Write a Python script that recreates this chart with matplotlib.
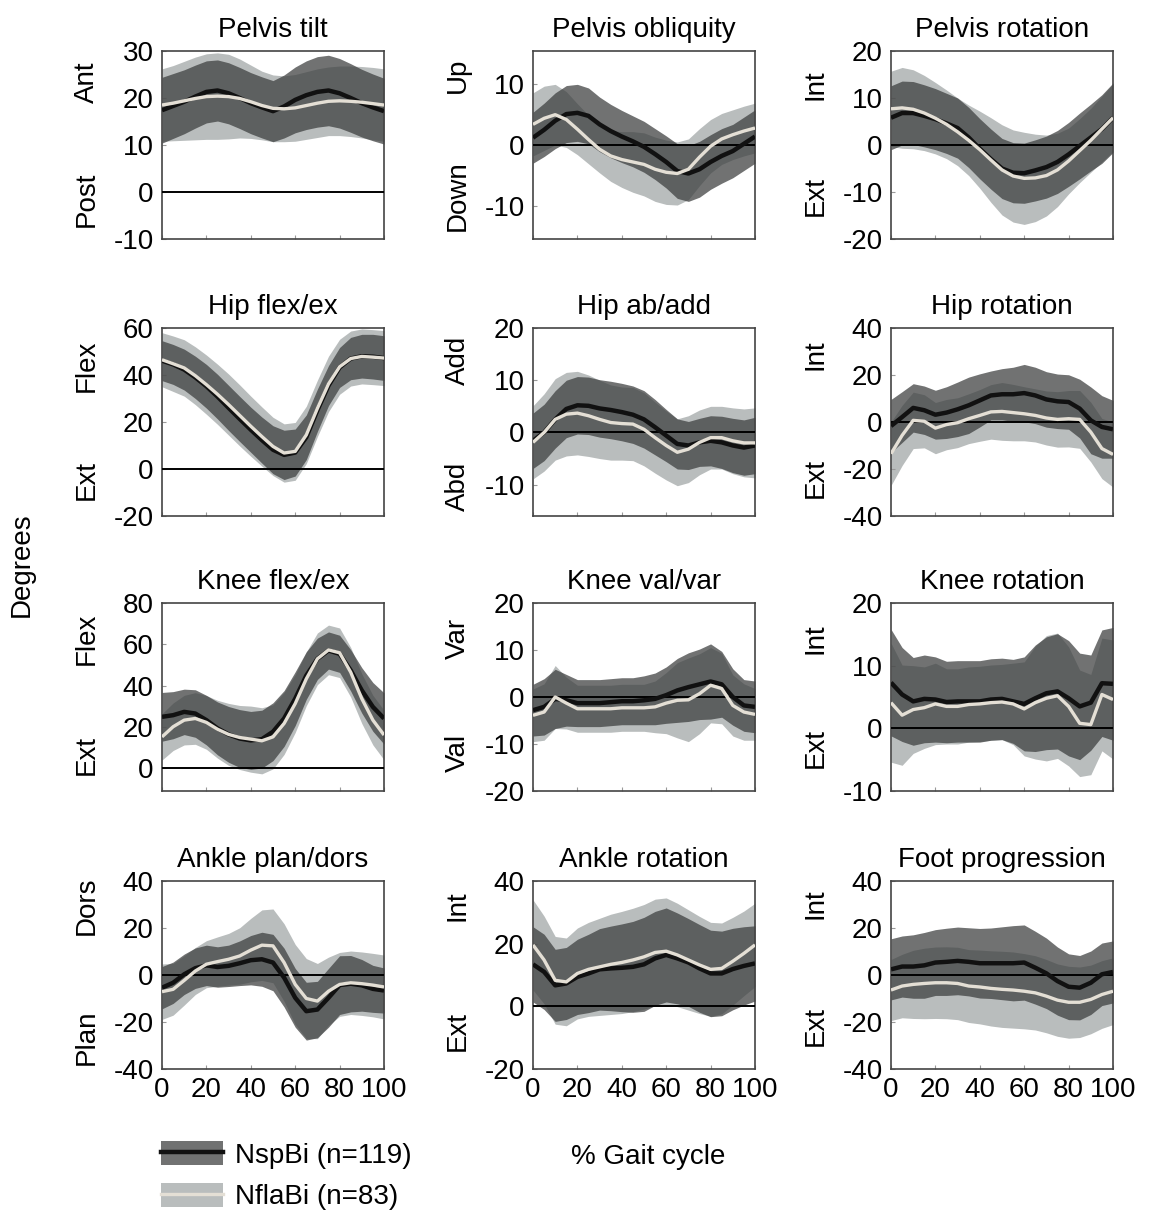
import numpy as np
import matplotlib
matplotlib.use("Agg")
import matplotlib.pyplot as plt
from matplotlib.patches import Patch
from matplotlib.lines import Line2D

plt.rcParams['font.family'] = ['Liberation Sans', 'DejaVu Sans']

# ---------------- data (0..100 % gait cycle, step 5) ----------------
gait = np.arange(0, 101, 5)

pelvis_tilt_sp_mean = [17.4, 18.3, 19.2, 20.3, 21.3, 21.6, 21.0, 20.0, 18.9, 18.0, 17.2, 18.2, 19.6, 20.6, 21.3, 21.6, 21.0, 20.0, 18.9, 18.0, 17.2]
pelvis_tilt_sp_sd = [7.0, 6.9, 6.8, 6.7, 6.6, 6.5, 6.5, 6.5, 6.5, 6.5, 6.5, 6.7, 7.0, 7.3, 7.5, 7.5, 7.4, 7.3, 7.2, 7.1, 7.0]
pelvis_tilt_fl_mean = [18.5, 18.9, 19.4, 19.9, 20.3, 20.4, 20.3, 19.9, 19.2, 18.4, 17.8, 17.7, 17.9, 18.4, 18.9, 19.3, 19.4, 19.3, 19.1, 18.8, 18.5]
pelvis_tilt_fl_sd = [7.7, 8.0, 8.4, 8.8, 9.1, 9.2, 9.0, 8.4, 7.8, 7.3, 7.1, 7.0, 7.1, 7.2, 7.3, 7.3, 7.4, 7.5, 7.6, 7.7, 7.7]

pelvis_obl_sp_mean = [1.2, 2.5, 4.0, 5.1, 5.3, 4.8, 3.4, 2.3, 1.4, 0.6, -0.3, -1.5, -2.8, -4.3, -4.7, -4.0, -2.8, -1.8, -1.0, 0.2, 1.4]
pelvis_obl_sp_sd = [4.2, 4.4, 4.6, 4.7, 4.7, 4.6, 4.5, 4.4, 4.3, 4.2, 4.2, 4.2, 4.3, 4.5, 4.6, 4.6, 4.5, 4.5, 4.4, 4.4, 4.4]
pelvis_obl_fl_mean = [3.4, 4.4, 5.0, 4.2, 2.6, 0.9, -0.7, -1.8, -2.4, -2.8, -3.2, -4.0, -4.5, -4.7, -4.0, -2.0, -0.2, 1.0, 1.7, 2.3, 2.8]
pelvis_obl_fl_sd = [5.2, 5.3, 5.0, 4.6, 4.2, 4.0, 3.9, 4.2, 4.6, 5.0, 5.2, 5.3, 5.3, 5.2, 5.0, 4.7, 4.4, 4.2, 4.1, 4.1, 4.1]

pelvis_rot_sp_mean = [5.8, 6.8, 6.8, 6.2, 5.5, 4.6, 3.6, 1.6, -0.8, -3.0, -5.0, -5.9, -6.0, -5.4, -4.7, -3.6, -2.0, -0.2, 1.6, 3.4, 5.8]
pelvis_rot_sp_sd = [6.8, 6.8, 6.7, 6.6, 6.5, 6.4, 6.4, 6.4, 6.4, 6.4, 6.4, 6.4, 6.4, 6.5, 6.6, 6.7, 6.8, 7.0, 7.1, 7.3, 7.4]
pelvis_rot_fl_mean = [7.7, 7.9, 7.6, 6.8, 5.7, 4.4, 2.8, 1.0, -1.0, -3.2, -5.3, -6.6, -7.1, -7.0, -6.5, -5.3, -3.4, -1.2, 1.0, 3.4, 5.8]
pelvis_rot_fl_sd = [8.0, 8.6, 8.4, 8.0, 7.6, 7.3, 7.2, 7.5, 8.2, 9.0, 9.6, 9.8, 9.8, 9.3, 8.6, 7.8, 7.0, 6.8, 6.8, 7.0, 7.2]

hip_flex_sp_mean = [46.1, 44.5, 42.3, 39.0, 35.2, 30.8, 26.0, 21.3, 16.7, 12.3, 8.2, 6.0, 7.0, 13.5, 25.0, 35.5, 43.2, 47.0, 48.0, 47.8, 47.2]
hip_flex_sp_sd = [8.5, 8.5, 8.7, 9.0, 9.3, 9.5, 9.6, 9.6, 9.6, 9.8, 10.2, 10.5, 10.0, 9.5, 9.0, 8.5, 8.5, 9.0, 9.3, 9.5, 9.5]
hip_flex_fl_mean = [46.5, 44.8, 43.0, 39.7, 35.9, 31.8, 27.4, 22.8, 18.2, 13.8, 9.6, 6.8, 7.5, 14.5, 25.8, 36.2, 43.5, 47.0, 47.9, 47.6, 47.2]
hip_flex_fl_sd = [11.5, 11.8, 12.0, 12.3, 12.6, 12.8, 13.0, 13.0, 12.8, 12.6, 12.4, 12.4, 12.3, 12.2, 12.0, 11.8, 11.7, 11.7, 11.7, 11.7, 11.7]

hip_abd_sp_mean = [-1.6, 0.0, 2.5, 4.5, 5.2, 5.1, 4.6, 4.3, 3.9, 3.4, 2.5, 1.0, -0.6, -2.2, -2.5, -1.9, -1.6, -1.9, -2.5, -2.9, -2.5]
hip_abd_sp_sd = [5.3, 5.4, 5.5, 5.5, 5.5, 5.5, 5.5, 5.5, 5.5, 5.5, 5.5, 5.3, 5.0, 4.8, 4.6, 4.6, 4.8, 5.0, 5.2, 5.3, 5.4]
hip_abd_fl_mean = [-1.9, 0.0, 2.5, 3.5, 3.7, 3.2, 2.5, 1.9, 1.7, 1.6, 0.6, -1.0, -2.5, -3.8, -3.2, -1.9, -1.0, -1.0, -1.6, -2.0, -2.0]
hip_abd_fl_sd = [7.0, 7.4, 7.8, 8.0, 8.0, 7.8, 7.5, 7.2, 7.0, 7.0, 7.0, 6.8, 6.6, 6.4, 6.4, 6.2, 6.0, 6.0, 6.3, 6.5, 6.7]

hip_rot_sp_mean = [-1.7, 2.1, 6.0, 5.0, 3.1, 4.0, 5.4, 7.1, 9.2, 11.3, 11.8, 11.8, 12.3, 11.3, 9.6, 8.8, 8.5, 5.7, 0.7, -2.1, -3.1]
hip_rot_sp_sd = [11.3, 10.8, 10.3, 10.3, 10.4, 11.0, 11.6, 12.0, 11.3, 10.4, 10.9, 11.5, 12.2, 12.0, 11.8, 11.6, 11.6, 12.5, 14.2, 13.3, 12.3]
hip_rot_fl_mean = [-13.5, -5.7, 0.7, 0.3, -2.6, -1.1, -0.3, 1.4, 2.8, 4.3, 4.5, 4.0, 3.5, 2.8, 1.7, 1.1, 1.4, 1.1, -4.3, -11.3, -13.8]
hip_rot_fl_sd = [13.5, 12.8, 12.0, 11.3, 10.9, 10.7, 10.6, 10.6, 11.0, 11.6, 12.3, 12.0, 11.5, 11.3, 11.5, 11.8, 12.0, 12.3, 12.7, 12.8, 13.9]

knee_flex_sp_mean = [24.9, 25.7, 27.3, 26.5, 23.3, 19.3, 16.4, 14.4, 13.5, 14.1, 17.7, 24.1, 33.7, 44.9, 53.0, 57.0, 55.4, 47.4, 37.7, 29.7, 24.1]
knee_flex_sp_sd = [11.8, 11.4, 11.0, 11.5, 12.0, 12.8, 13.5, 14.0, 14.0, 14.0, 14.0, 13.5, 13.0, 11.5, 10.0, 9.0, 9.0, 10.0, 11.0, 11.8, 12.4]
knee_flex_fl_mean = [15.2, 20.1, 23.3, 24.1, 22.2, 18.9, 16.4, 14.9, 14.1, 13.3, 15.2, 21.7, 31.3, 43.3, 53.0, 57.3, 55.9, 46.5, 33.7, 23.3, 16.1]
knee_flex_fl_sd = [11.2, 11.5, 12.0, 12.5, 13.0, 14.0, 15.0, 15.5, 16.0, 16.0, 15.5, 15.0, 14.0, 13.0, 12.5, 12.0, 12.0, 12.0, 12.0, 12.0, 12.0]

knee_var_sp_mean = [-2.8, -2.1, -0.4, -0.7, -1.3, -1.3, -1.3, -1.1, -0.9, -0.9, -0.7, -0.4, 0.4, 1.4, 2.1, 2.7, 3.3, 2.7, 0.0, -1.8, -2.1]
knee_var_sp_sd = [5.5, 6.0, 6.3, 5.5, 5.0, 5.0, 5.0, 5.0, 5.0, 5.0, 5.2, 5.5, 6.0, 6.8, 7.3, 7.5, 8.0, 7.0, 6.0, 5.5, 5.5]
knee_var_fl_mean = [-3.9, -3.2, 0.0, -1.3, -2.5, -2.5, -2.5, -2.5, -2.3, -2.3, -2.3, -2.1, -1.3, -0.7, -0.6, 0.7, 2.5, 1.8, -1.8, -3.2, -3.7]
knee_var_fl_sd = [5.6, 6.0, 6.7, 5.5, 5.0, 5.0, 5.0, 5.0, 5.0, 5.0, 5.0, 5.5, 6.5, 8.0, 8.9, 8.5, 8.0, 7.5, 6.5, 6.0, 5.5]

knee_rot_sp_mean = [7.3, 5.4, 4.3, 4.7, 4.6, 4.2, 4.3, 4.3, 4.3, 4.6, 4.7, 4.3, 3.9, 4.8, 5.6, 5.9, 4.8, 3.5, 4.1, 7.2, 7.1]
knee_rot_sp_sd = [8.5, 7.5, 7.0, 7.0, 6.8, 6.5, 6.5, 6.5, 6.5, 6.5, 6.5, 6.7, 7.5, 8.5, 9.0, 9.2, 9.2, 8.5, 7.6, 8.5, 9.0]
knee_rot_fl_mean = [4.1, 2.1, 3.0, 3.3, 3.9, 3.5, 3.5, 3.8, 3.9, 4.1, 4.2, 3.9, 3.1, 4.1, 4.8, 5.2, 3.5, 0.8, 0.6, 5.4, 4.6]
knee_rot_fl_sd = [9.5, 8.0, 7.0, 6.5, 6.5, 6.0, 6.0, 6.0, 6.0, 6.0, 6.0, 6.5, 7.5, 9.0, 10.0, 10.0, 9.5, 8.5, 8.0, 9.0, 9.5]

ankle_dors_sp_mean = [-5.4, -3.3, 0.3, 2.9, 4.1, 3.4, 3.9, 5.0, 6.3, 6.7, 5.3, -1.1, -9.7, -15.4, -14.7, -9.7, -4.3, -3.7, -4.4, -5.9, -6.6]
ankle_dors_sp_sd = [9.0, 8.8, 8.6, 8.6, 8.6, 8.6, 8.8, 9.5, 10.5, 11.5, 12.0, 12.5, 12.5, 12.3, 12.0, 12.5, 12.5, 12.0, 11.0, 10.0, 9.6]
ankle_dors_fl_mean = [-7.1, -6.1, -2.3, 1.7, 4.6, 5.7, 6.7, 8.1, 10.6, 12.7, 12.4, 5.3, -4.0, -10.0, -11.1, -6.9, -4.0, -3.3, -3.7, -4.3, -5.1]
ankle_dors_fl_sd = [11.8, 11.0, 10.5, 10.0, 10.0, 10.5, 11.0, 12.0, 13.5, 15.0, 15.7, 16.5, 17.0, 17.0, 16.0, 14.5, 13.6, 13.5, 13.5, 13.5, 13.6]

ankle_rot_sp_mean = [13.4, 11.0, 6.7, 7.3, 9.4, 10.5, 11.8, 12.1, 12.3, 12.6, 13.4, 15.3, 16.4, 15.3, 14.0, 12.1, 10.5, 10.5, 11.9, 12.9, 13.7]
ankle_rot_sp_sd = [12.0, 12.0, 11.5, 11.5, 12.0, 12.5, 13.0, 13.5, 14.0, 14.5, 15.0, 15.0, 15.0, 14.5, 14.0, 14.0, 13.8, 13.5, 13.0, 12.5, 12.0]
ankle_rot_fl_mean = [19.6, 14.8, 8.3, 7.8, 10.5, 11.8, 12.6, 13.4, 14.0, 14.8, 15.8, 17.2, 17.6, 16.4, 14.8, 13.2, 11.8, 12.1, 14.4, 16.9, 19.6]
ankle_rot_fl_sd = [14.4, 14.0, 14.0, 14.0, 14.5, 15.0, 15.5, 16.0, 16.3, 16.5, 16.7, 17.0, 17.0, 16.5, 16.0, 15.5, 15.0, 14.5, 14.0, 13.5, 13.3]

foot_prog_sp_mean = [2.4, 3.6, 3.6, 4.1, 5.3, 5.6, 6.0, 5.6, 5.0, 5.0, 5.0, 5.0, 5.3, 3.1, 0.7, -2.6, -5.0, -5.4, -3.3, 0.3, 1.3]
foot_prog_sp_sd = [13.0, 13.0, 13.5, 14.0, 14.0, 14.3, 14.4, 14.5, 14.8, 15.0, 15.5, 16.0, 16.0, 15.5, 15.0, 14.5, 14.0, 13.7, 13.5, 13.3, 13.2]
foot_prog_fl_mean = [-6.4, -4.7, -4.0, -3.6, -3.3, -3.3, -3.6, -4.7, -5.1, -5.7, -6.1, -6.4, -6.9, -7.6, -9.0, -10.7, -11.6, -11.6, -10.4, -8.3, -6.9]
foot_prog_fl_sd = [13.0, 13.5, 14.5, 15.0, 15.2, 15.3, 15.4, 15.5, 15.7, 16.0, 16.2, 16.2, 16.0, 15.8, 15.6, 15.4, 15.3, 15.0, 14.6, 14.4, 14.2]

titles = ["Pelvis tilt", "Pelvis obliquity", "Pelvis rotation",
          "Hip flex/ex", "Hip ab/add", "Hip rotation",
          "Knee flex/ex", "Knee val/var", "Knee rotation",
          "Ankle plan/dors", "Ankle rotation", "Foot progression"]
pos_labels = ["Ant", "Up", "Int", "Flex", "Add", "Int", "Flex", "Var", "Int", "Dors", "Int", "Int"]
neg_labels = ["Post", "Down", "Ext", "Ext", "Abd", "Ext", "Ext", "Val", "Ext", "Plan", "Ext", "Ext"]
x_ticks = [0, 20, 40, 60, 80, 100]
legend_labels = ["NspBi (n=119)", "NflaBi (n=83)"]

# axis ranges / ticks per panel
ylims = [(-10, 30), (-15.5, 15.5), (-20, 20),
         (-20, 60), (-16, 20), (-40, 40),
         (-11, 80), (-20, 20), (-10, 20),
         (-40, 40), (-20, 40), (-40, 40)]
yticks = [[-10, 0, 10, 20, 30], [-10, 0, 10], [-20, -10, 0, 10, 20],
          [-20, 0, 20, 40, 60], [-10, 0, 10, 20], [-40, -20, 0, 20, 40],
          [0, 20, 40, 60, 80], [-20, -10, 0, 10, 20], [-10, 0, 10, 20],
          [-40, -20, 0, 20, 40], [-20, 0, 20, 40], [-40, -20, 0, 20, 40]]
# vertical placement (axes fraction) of the direction words
pos_y = [0.835, 0.87, 0.82, 0.80, 0.83, 0.86, 0.81, 0.81, 0.81, 0.87, 0.87, 0.88]
neg_y = [0.21, 0.23, 0.23, 0.19, 0.16, 0.20, 0.19, 0.20, 0.23, 0.17, 0.20, 0.23]

series = [
    (pelvis_tilt_sp_mean, pelvis_tilt_sp_sd, pelvis_tilt_fl_mean, pelvis_tilt_fl_sd),
    (pelvis_obl_sp_mean, pelvis_obl_sp_sd, pelvis_obl_fl_mean, pelvis_obl_fl_sd),
    (pelvis_rot_sp_mean, pelvis_rot_sp_sd, pelvis_rot_fl_mean, pelvis_rot_fl_sd),
    (hip_flex_sp_mean, hip_flex_sp_sd, hip_flex_fl_mean, hip_flex_fl_sd),
    (hip_abd_sp_mean, hip_abd_sp_sd, hip_abd_fl_mean, hip_abd_fl_sd),
    (hip_rot_sp_mean, hip_rot_sp_sd, hip_rot_fl_mean, hip_rot_fl_sd),
    (knee_flex_sp_mean, knee_flex_sp_sd, knee_flex_fl_mean, knee_flex_fl_sd),
    (knee_var_sp_mean, knee_var_sp_sd, knee_var_fl_mean, knee_var_fl_sd),
    (knee_rot_sp_mean, knee_rot_sp_sd, knee_rot_fl_mean, knee_rot_fl_sd),
    (ankle_dors_sp_mean, ankle_dors_sp_sd, ankle_dors_fl_mean, ankle_dors_fl_sd),
    (ankle_rot_sp_mean, ankle_rot_sp_sd, ankle_rot_fl_mean, ankle_rot_fl_sd),
    (foot_prog_sp_mean, foot_prog_sp_sd, foot_prog_fl_mean, foot_prog_fl_sd),
]

# ---------------- style ----------------
LIGHT = '#b9bdbd'
DARK = '#3a3c3c'
DARK_ALPHA = 0.72
BLACK = '#111111'
WHITE = '#e4dfd5'
FS = 20

W, H = 1150, 1214
fig = plt.figure(figsize=(W / 100, H / 100), dpi=100)

col_left = [162, 533, 891]
row_top = [51, 328, 603, 881]
ax_w, ax_h = 222, 188


def draw_panel(ax, k):
    sp_m, sp_s, fl_m, fl_s = [np.asarray(a, float) for a in series[k]]
    ax.fill_between(gait, fl_m - fl_s, fl_m + fl_s, color=LIGHT, lw=0, zorder=1)
    ax.fill_between(gait, sp_m - sp_s, sp_m + sp_s, color=DARK, alpha=DARK_ALPHA, lw=0, zorder=2)
    ax.axhline(0, color='black', lw=1.4, zorder=3)
    ax.plot(gait, sp_m, color=BLACK, lw=3.2, solid_capstyle='butt', zorder=4)
    ax.plot(gait, fl_m, color=WHITE, lw=2.4, solid_capstyle='butt', zorder=5)

    ax.set_xlim(0, 100)
    ax.set_ylim(*ylims[k])
    ax.set_yticks(yticks[k])
    ax.set_yticklabels([str(t) for t in yticks[k]])
    ax.set_xticks(x_ticks)
    if k >= 9:
        ax.set_xticklabels([str(t) for t in x_ticks])
    else:
        ax.set_xticklabels([])
    ax.tick_params(direction='in', length=3, width=0.8, color='#999999',
                   labelsize=FS, pad=6)
    for sp in ax.spines.values():
        sp.set_color('#444444')
        sp.set_linewidth(1.2)
    ax.set_title(titles[k], fontsize=FS, pad=10)
    ax.text(-0.34, pos_y[k], pos_labels[k], transform=ax.transAxes, rotation=90,
            ha='center', va='center', fontsize=FS)
    ax.text(-0.34, neg_y[k], neg_labels[k], transform=ax.transAxes, rotation=90,
            ha='center', va='center', fontsize=FS)


for k in range(12):
    r, c = divmod(k, 3)
    rect = [col_left[c] / W, 1 - (row_top[r] + ax_h) / H, ax_w / W, ax_h / H]
    ax = fig.add_axes(rect)
    draw_panel(ax, k)

fig.text(22 / W, 1 - 565 / H, "Degrees", rotation=90, ha='center', va='center', fontsize=FS)
fig.text(648 / W, 1 - 1157 / H, "% Gait cycle", ha='center', va='center', fontsize=FS)

handles = [
    (Patch(facecolor=DARK, alpha=DARK_ALPHA, edgecolor='none'), Line2D([], [], color=BLACK, lw=3.2)),
    (Patch(facecolor=LIGHT, edgecolor='none'), Line2D([], [], color=WHITE, lw=2.4)),
]
fig.legend(handles, legend_labels, loc='upper left', bbox_to_anchor=(142 / W, 1 - 1122 / H),
           frameon=False, fontsize=FS, handlelength=2.2, handleheight=0.95,
           labelspacing=0.5, handletextpad=0.45, borderpad=0.2)

fig.savefig("out.png", dpi=100)
